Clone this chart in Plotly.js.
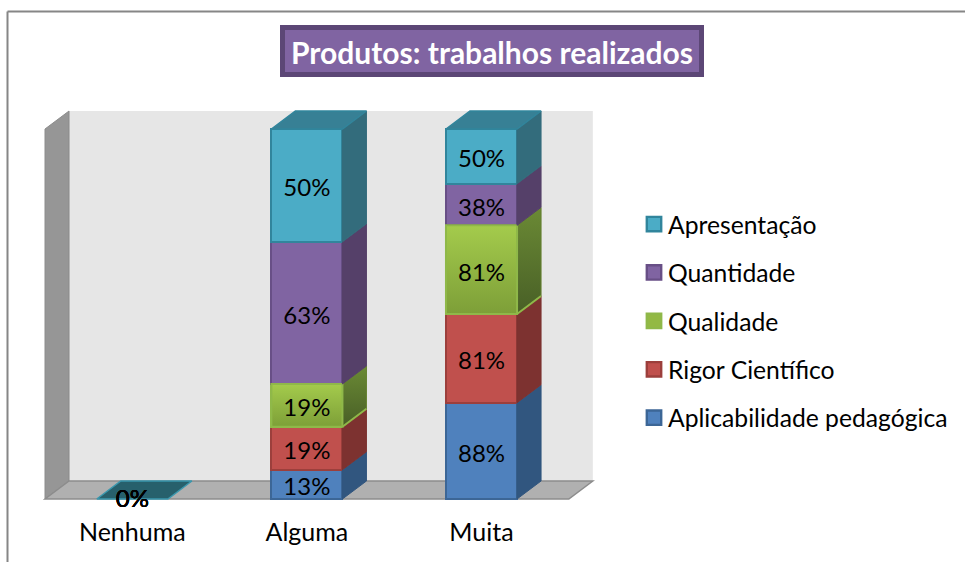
<!DOCTYPE html>
<html><head><meta charset="utf-8">
<script src="https://cdn.plot.ly/plotly-3.0.1.min.js"></script>
<style>html,body{margin:0;padding:0;background:#fff;overflow:hidden}svg text{font-variant-ligatures:none}</style></head>
<body><div id="chart" style="width:965px;height:562px"></div>
<script>
var categories = ["Nenhuma", "Alguma", "Muita"];
var aplicabilidade = [0, 13, 88];
var rigor = [0, 19, 81];
var qualidade = [0, 19, 81];
var quantidade = [0, 63, 38];
var apresentacao = [0, 50, 50];
var seriesNames = ["Aplicabilidade pedagógica", "Rigor Científico", "Qualidade", "Quantidade", "Apresentação"];
var seriesValues = [aplicabilidade, rigor, qualidade, quantidade, apresentacao];
var frontColors = ["#4f81bd", "#c0504d", "#93b944", "#8064a2", "#4bacc6"];
var edgeColors = ["#3c6696", "#9c3f3c", "#8fb849", "#684f86", "#31859c"];
var sideColors = ["#31567f", "#7d3230", "#63802e", "#554069", "#336c7c"];
var gradientFront = {2: ["#a4cb4c", "#7d9f38"]};
var gradientSide = {2: ["#6b8a35", "#485f26"]};
var topColor = "#378095", flatColor = "#27606c";
var FONT = "Lato, Carlito, Calibri, sans-serif";

var W = 965, H = 562;
var plot = {l: 43, r: 595, t: 110, b: 503};
var xr = [-0.5115, 2.65], yr = [-1.08, 105.14];
var barW = 0.407, dx = 0.1375, dy = 4.865;
var xpos = categories.map(function (c, i) { return i; });
function px(x) { return (x - plot.l) / (plot.r - plot.l); }
function py(y) { return (plot.b - y) / (plot.b - plot.t); }

var totals = xpos.map(function (i) {
  return seriesValues.reduce(function (s, v) { return s + v[i]; }, 0);
});
function poly(xs, ys, fill, line, lw, grad) {
  var t = {type: "scatter", mode: "lines", x: xs, y: ys, fill: "toself", line: {color: line, width: lw},
    showlegend: false, hoverinfo: "skip"};
  if (grad) t.fillgradient = {type: "vertical", colorscale: [[0, grad[1]], [1, grad[0]]]};
  else t.fillcolor = fill;
  return t;
}
var traces = [];
seriesValues.forEach(function (vals, k) {
  traces.push({type: "bar", x: xpos, y: vals, name: seriesNames[k], legendgroup: seriesNames[k],
    legendrank: seriesValues.length - k,
    marker: {color: frontColors[k], line: {color: edgeColors[k], width: 2}}, hoverinfo: "name+y"});
});
// depth faces, from the same stacked values
var base = xpos.map(function () { return 0; });
var labels = [];
seriesValues.forEach(function (vals, k) {
  xpos.forEach(function (i) {
    var t = totals[i] || 1, y0 = base[i], y1 = y0 + vals[i] / t * 100, r = i + barW / 2, l = i - barW / 2;
    if (vals[i] > 0) {
      traces.push(poly([r, r + dx, r + dx, r, r], [y0, y0 + dy, y1 + dy, y1, y0], sideColors[k],
        sideColors[k], 1, gradientSide[k]));
      if (gradientFront[k]) {
        traces.push(poly([l, r, r, l, l], [y0, y0, y1, y1, y0], frontColors[k], edgeColors[k], 2, gradientFront[k]));
        traces.push({type: "scatter", mode: "lines", x: [r, r + dx], y: [y0, y0 + dy],
          line: {color: edgeColors[k], width: 2}, showlegend: false, hoverinfo: "skip"});
      }
    }
    labels.push({x: i, y: (y0 + y1) / 2 - (vals[i] > 0 ? 1.35 : 0.5), t: vals[i] + "%"});
    base[i] = y1;
  });
});
xpos.forEach(function (i) {
  var l = i - barW / 2, r = i + barW / 2, y = base[i], flat = totals[i] === 0;
  traces.push(poly([l, l + dx, r + dx, r, l], [y, y + dy, y + dy, y, y], flat ? flatColor : topColor,
    flat ? "#3a97ad" : "#31859c", 1.5));
});
labels.forEach(function (d) {
  traces.push({type: "scatter", mode: "text", x: [d.x], y: [d.y], text: [d.t], textposition: "middle center",
    textfont: {family: FONT, size: 24, color: "#000"}, cliponaxis: false, showlegend: false, hoverinfo: "skip"});
});

var x0 = -0.5, x1 = 2.5, yt = 100;
var shapes = [
  {type: "rect", xref: "paper", yref: "paper", x0: px(282.5), x1: px(701.5), y0: py(74.5), y1: py(27.5),
   fillcolor: "#8064a2", line: {color: "#5c4776", width: 5}, layer: "below"},
  {type: "line", xref: "paper", yref: "paper", x0: px(7.5), x1: px(965), y0: py(11.5), y1: py(11.5), line: {color: "#868686", width: 2}, layer: "below"},
  {type: "line", xref: "paper", yref: "paper", x0: px(7.5), x1: px(7.5), y0: py(11.5), y1: py(562), line: {color: "#868686", width: 2}, layer: "below"},
  {type: "rect", xref: "x", yref: "y", x0: x0 + dx, x1: x1 + dx, y0: dy, y1: yt + dy, fillcolor: "#e6e6e6", line: {width: 0}, layer: "below"},
  {type: "path", xref: "x", yref: "y", layer: "below", fillcolor: "#969696", line: {color: "#8c8c8c", width: 1},
   path: "M" + x0 + ",0 L" + (x0 + dx) + "," + dy + " L" + (x0 + dx) + "," + (yt + dy) + " L" + x0 + "," + yt + " Z"},
  {type: "path", xref: "x", yref: "y", layer: "below", fillcolor: "#b0b0b0", line: {color: "#8c8c8c", width: 1.5},
   path: "M" + x0 + ",0 L" + (x0 + dx) + "," + dy + " L" + (x1 + dx) + "," + dy + " L" + x1 + ",0 Z"}
];

var layout = {
  width: W, height: H, paper_bgcolor: "#fff", plot_bgcolor: "rgba(0,0,0,0)",
  margin: {l: plot.l, r: W - plot.r, t: plot.t, b: H - plot.b, pad: 0, autoexpand: false},
  barmode: "stack", barnorm: "percent", bargap: 1 - barW,
  title: {text: "<b>Produtos: trabalhos realizados</b>", font: {family: FONT, size: 30, color: "#fff"},
    x: 492 / W, xanchor: "center", xref: "container", y: 1 - 53 / H, yanchor: "middle", yref: "container"},
  xaxis: {range: xr, tickmode: "array", tickvals: xpos, ticktext: categories, showgrid: false, zeroline: false, showline: false,
    ticks: "outside", ticklen: 7, tickcolor: "rgba(0,0,0,0)", tickfont: {family: FONT, size: 25, color: "#000"}, fixedrange: true},
  yaxis: {range: yr, showticklabels: false, ticks: "", showgrid: false, zeroline: false, showline: false, fixedrange: true},
  legend: {x: px(628), xanchor: "left", y: py(201.5), yanchor: "top", traceorder: "grouped", tracegroupgap: 13.3,
    font: {family: FONT, size: 24.7, color: "#000"}, bgcolor: "rgba(0,0,0,0)", borderwidth: 0},
  shapes: shapes, showlegend: true
};

Plotly.newPlot("chart", traces, layout, {displayModeBar: false, responsive: false}).then(function () {
  document.querySelectorAll(".legend .legendpoints path").forEach(function (p) {
    p.setAttribute("transform", "translate(26,0) scale(1.2)");
  });
});
</script></body></html>
